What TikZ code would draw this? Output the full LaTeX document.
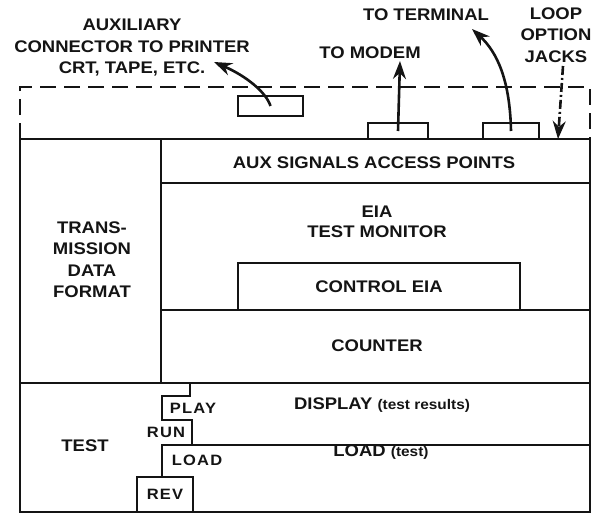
\documentclass[tikz,border=0pt]{standalone}
\usepackage{fontspec}
\setmainfont{Liberation Sans}[FakeStretch=1.1]
\usepackage{tikz}
\usetikzlibrary{arrows.meta, positioning}
\definecolor{inkblack}{RGB}{20, 20, 20}
\tikzset{
  panel/.style={line width=2.5pt, draw=inkblack},
  dashpanel/.style={line width=2.8pt, draw=inkblack, dash pattern=on 16pt off 8pt},
  jackbox/.style={rectangle, draw=inkblack, line width=2.2pt, inner sep=0pt,
              minimum width=#1, minimum height=16pt},
  jackbox/.default=60pt,
  keybox/.style={rectangle, draw=inkblack, line width=2.5pt, inner sep=0pt,
              font=\bfseries\fontsize{15}{18}\selectfont\addfontfeatures{LetterSpace=8},
              text=inkblack},
  blocklabel/.style={font=\bfseries\fontsize{16.8}{21.5}\selectfont, align=center,
              text=inkblack, inner sep=1pt},
  keylabel/.style={font=\bfseries\fontsize{15}{18}\selectfont\addfontfeatures{LetterSpace=8},
              text=inkblack, inner sep=1pt},
  arrow/.style={-{Stealth[length=18pt, width=13pt]}, line width=2.6pt, draw=inkblack},
  dasharrow/.style={arrow, dash pattern=on 9pt off 3pt on 2pt off 3pt},
}
\begin{document}
\begin{tikzpicture}[x=1pt, y=-1pt]
  \useasboundingbox (0,0) rectangle (593,514);
  % Top strip with connectors
  \draw[dashpanel] (20,139) -- (20,87) -- (590,87) -- (590,139);
  \node[jackbox=65pt, minimum height=20pt] (auxjack) at (270.5,106) {};
  \node[jackbox=60pt] (modemjack) at (398,131) {};
  \node[jackbox=56pt] (termjack) at (511,131) {};
  % Main panel outline
  \draw[panel] (20,139) rectangle (590,512);
  \draw[panel] (161,139) -- (161,383);
  \draw[panel] (161,183) -- (590,183);
  \draw[panel] (161,310) -- (590,310);
  \draw[panel] (20,383) -- (590,383);
  % Test switch steps
  \draw[panel] (190,383) -- (190,396) -- (162,396) -- (162,420) -- (192,420) -- (192,445);
  \draw[panel] (162,477) -- (162,445) -- (590,445);
  \node[keybox, minimum width=56pt, minimum height=35pt] (rev) at (165,494.5) {REV};
  \node[keybox, font=\bfseries\fontsize{16.8}{20}\selectfont,
        minimum width=282pt, minimum height=47pt] (ctrleia) at (379,286.5) {CONTROL EIA};
  % Labels inside
  \node[blocklabel] (transfmt) at (92,259.5) {TRANS-\\MISSION\\DATA\\FORMAT};
  \node[blocklabel] (auxsig) at (374,163) {AUX SIGNALS ACCESS POINTS};
  \node[blocklabel, font=\bfseries\fontsize{16.8}{20}\selectfont] (eiamon) at (377,222) {EIA\\TEST MONITOR};
  \node[blocklabel] (counter) at (377,346) {COUNTER};
  \node[blocklabel] (test) at (85,446) {TEST};
  \node[keylabel] (play) at (193,408) {PLAY};
  \node[keylabel] (run) at (166,432) {RUN};
  \node[keylabel] (loadkey) at (197,460) {LOAD};
  \node[blocklabel] (display) at (382,405) {DISPLAY {\fontsize{14}{16}\selectfont(test results)}};
  \node[blocklabel] (loadtest) at (381,452) {LOAD {\fontsize{14}{16}\selectfont(test)}};
  % Labels outside
  \node[blocklabel] (auxlabel) at (132,48) {AUXILIARY\\CONNECTOR TO PRINTER\\CRT, TAPE, ETC.};
  \node[blocklabel] (termlabel) at (426,15) {TO TERMINAL};
  \node[blocklabel] (modemlabel) at (370,53) {TO MODEM};
  \node[blocklabel] (looplabel) at (556,35) {LOOP\\OPTION\\JACKS};
  % Arrows
  \coordinate (auxtip) at (214,62);
  \coordinate (modemtip) at (400,61);
  \coordinate (termtip) at (472,29);
  \coordinate (loopstart) at (563,66);
  \coordinate (looptip) at (558,139);
  \draw[arrow] (auxjack.center) .. controls (266,92) and (246,76) .. (auxtip);
  \draw[arrow] (modemjack.center) -- (modemtip);
  \draw[arrow] (termjack.center) .. controls (510,80) and (497,52) .. (termtip);
  \draw[dasharrow] (loopstart) -- (looptip);
\end{tikzpicture}
\end{document}
